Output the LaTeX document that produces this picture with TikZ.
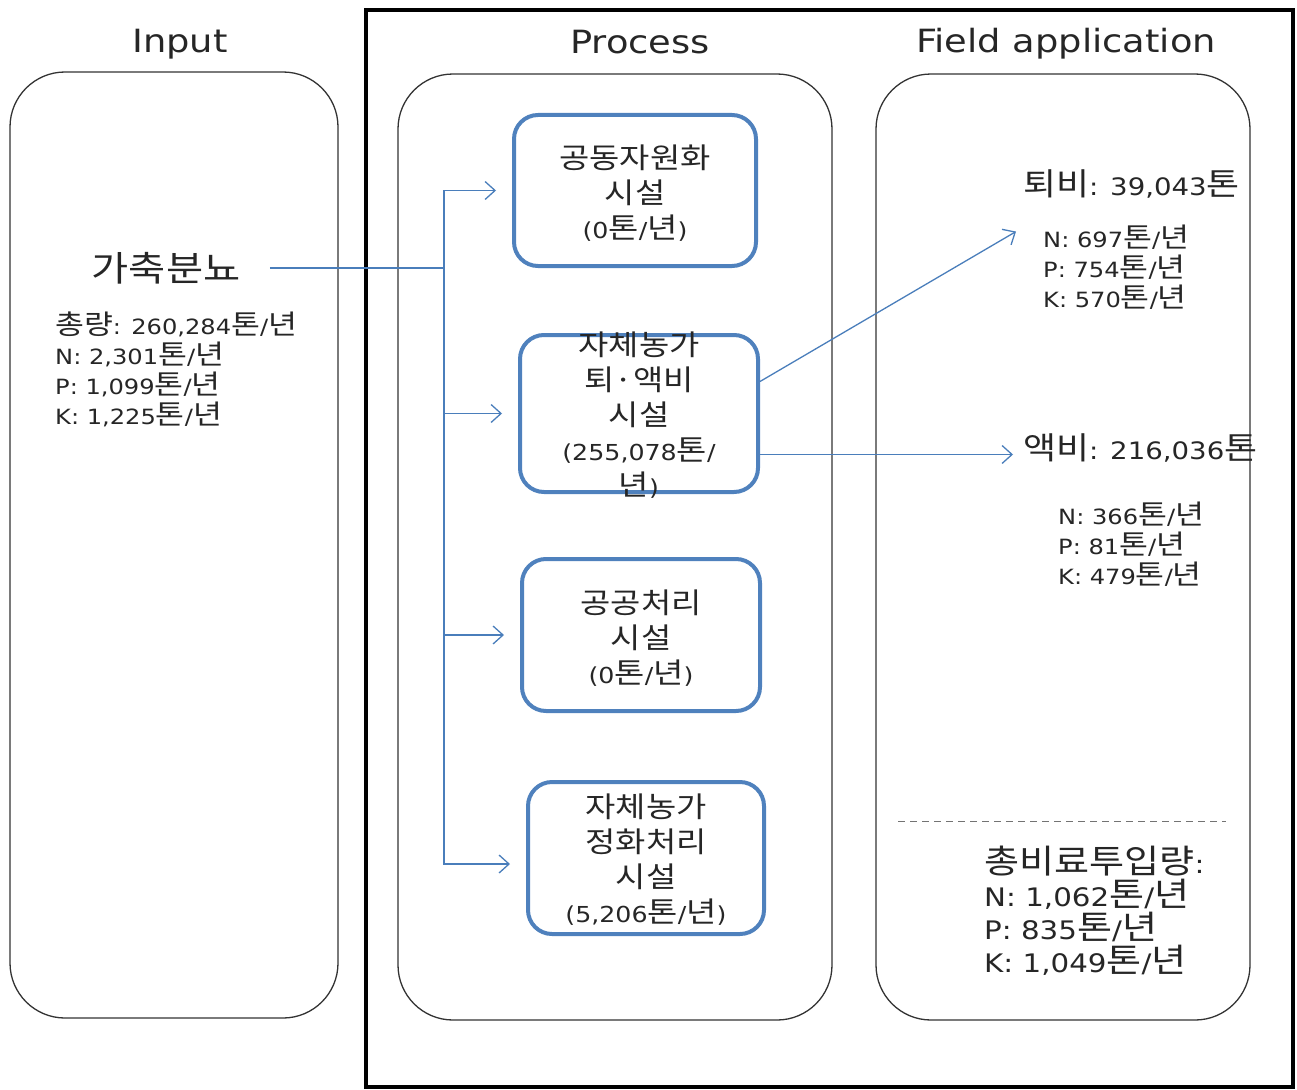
\documentclass[tikz,border=0pt]{standalone}
\usepackage{fontspec}
\setmainfont{DejaVu Sans}[FakeStretch=1.15]
\newfontfamily\krfont{Noto Sans CJK KR}[Scale=1.3,FakeStretch=1.15]
\newcommand{\kr}[1]{{\krfont #1}}
\newcommand{\tpy}{\kr{톤}/\kr{년}}
\usetikzlibrary{arrows.meta,positioning}

\definecolor{boxblue}{RGB}{79,129,189}
\definecolor{linkblue}{RGB}{74,126,187}

\begin{document}
\begin{tikzpicture}[x=1pt, y=-1pt,
  frame/.style={draw=black, line width=4pt, inner sep=0pt},
  panel/.style={draw=black!80, line width=1.3pt, rounded corners=55pt, inner sep=0pt},
  title/.style={font=\fontsize{32}{38}\selectfont, text=black!85},
  facility/.style={draw=boxblue, line width=4pt, rounded corners=24pt, inner sep=0pt},
  boxtext/.style={align=center, font=\fontsize{22}{35}\selectfont, text=black!85, inner sep=0pt},
  datatext/.style={align=left, font=\fontsize{21}{30}\selectfont, text=black!85, inner sep=0pt},
  headtext/.style={font=\fontsize{24}{30}\selectfont, text=black!85, inner sep=0pt},
  flow/.style={-{Straight Barb[length=10pt,width=18pt]}, draw=linkblue, line width=1.3pt}
]
\useasboundingbox (0,0) rectangle (1297,1089);

% frame round process and field application
\node[frame, minimum width=927, minimum height=1077] (frame) at (829.5,548.5) {};

% three columns
\node[panel, minimum width=328, minimum height=946] (inpanel) at (174,545) {};
\node[panel, minimum width=434, minimum height=946] (procpanel) at (615,547) {};
\node[panel, minimum width=374, minimum height=946] (fieldpanel) at (1063,547) {};
\node[title] (intitle) at (180,44) {Input};
\node[title] (proctitle) at (640,42) {Process};
\node[title] (fieldtitle) at (1066,44) {Field application};

% input
\node[font=\fontsize{27}{32}\selectfont, text=black!85] (manure) at (166,268) {\kr{가축분뇨}};
\node[datatext, anchor=west] (inputdata) at (55,369)
  {\kr{총량}: 260,284\tpy\\N: 2,301\tpy\\P: 1,099\tpy\\K: 1,225\tpy};

% treatment facilities
\node[facility, minimum width=242, minimum height=151] (b1) at (635,190.5) {};
\node[facility, minimum width=238, minimum height=157] (b2) at (639,413.5) {};
\node[facility, minimum width=238, minimum height=152] (b3) at (641,635) {};
\node[facility, minimum width=236, minimum height=152] (b4) at (646,858) {};
\node[boxtext] (b1text) at (635,193) {\kr{공동자원화}\\\kr{시설}\\(0\tpy)};
\node[boxtext] (b2text) at (639,415) {\kr{자체농가}\\\kr{퇴·액비}\\\kr{시설}\\(255,078\kr{톤}/\\\kr{년})};
\node[boxtext] (b3text) at (641,638) {\kr{공공처리}\\\kr{시설}\\(0\tpy)};
\node[boxtext] (b4text) at (646,860) {\kr{자체농가}\\\kr{정화처리}\\\kr{시설}\\(5,206\tpy)};

% field application
\node[headtext, anchor=west] (compost) at (1023,184) {\kr{퇴비}: 39,043\kr{톤}};
\node[datatext, anchor=west] (compostdata) at (1043,267) {N: 697\tpy\\P: 754\tpy\\K: 570\tpy};
\node[headtext, anchor=west] (liquid) at (1023,448) {\kr{액비}: 216,036\kr{톤}};
\node[datatext, anchor=west] (liquiddata) at (1058,544) {N: 366\tpy\\P: 81\tpy\\K: 479\tpy};
\draw[black!55, line width=1pt, dash pattern=on 7pt off 5pt] (898,821) -- (1226,821);
\node[datatext, anchor=west, font=\fontsize{25.5}{33}\selectfont] (total) at (984,911)
  {\kr{총비료투입량}:\\N: 1,062\tpy\\P: 835\tpy\\K: 1,049\tpy};

% flows
\coordinate (split) at (444,268);
\draw[draw=linkblue, line width=1.3pt, shorten <=26pt] (manure.east) -- (split);
\draw[flow, shorten >=16pt] (split) |- (b1);
\draw[flow, shorten >=16pt] (split) |- (b2);
\draw[flow, shorten >=16pt] (split) |- (b3);
\draw[flow, shorten >=16pt] (split) |- ([yshift=-6pt]b4.west);
\draw[flow] ([yshift=32pt]b2.east) -- ([xshift=-27pt,yshift=-7pt]compostdata.north west);
\draw[flow, shorten >=10pt] ([yshift=-41pt]b2.east) -- ([yshift=-41pt]b2.east -| liquid.west);
\end{tikzpicture}
\end{document}
